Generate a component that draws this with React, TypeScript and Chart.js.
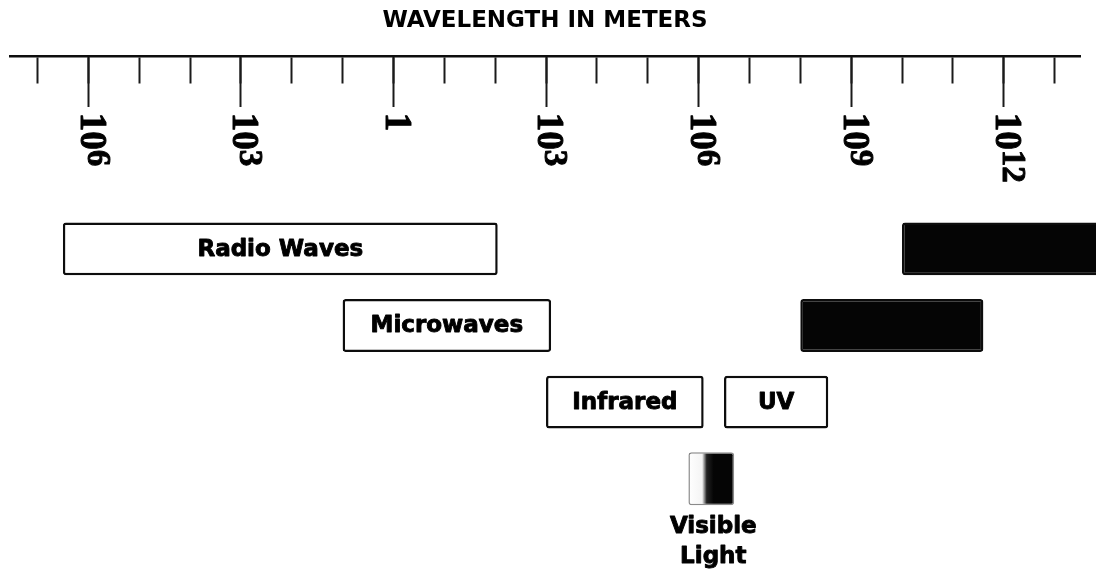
import React, { useEffect, useRef } from "react";
import { Chart, registerables } from "chart.js";

Chart.register(...registerables);

// ---------- data ----------
const TITLE = "WAVELENGTH IN METERS";
const ROWS = ["row1", "row2", "row3", "row4"];
const BANDS = ["Radio Waves", "Microwaves", "Infrared", "Visible Light", "UV", "X-Rays", "Gamma Rays"];
// axis units: each unit = one decade of wavelength, 10^6 m at -6 … 10^12 at 12
const BAND_START = [-6.5, -1.0, 3.0, 5.8, 6.5, 8.0, 10.0];
const BAND_END = [2.05, 3.1, 6.1, 6.7, 8.55, 11.6, 13.9];
const BAND_ROW = ["row1", "row2", "row3", "row4", "row3", "row2", "row1"];
const TICK_LABELS = ["10^6", "10^3", "1", "10^3", "10^6", "10^9", "10^12"];
const AXIS_MIN = -7.54;
const AXIS_MAX = 13.5;
const MINOR_STEP = 1;
const MAJOR_STEP = 3;

// ---------- styles ----------
const DARK = new Set(["X-Rays", "Gamma Rays"]);
const BELOW = new Set(["Visible Light"]);
const AXIS_ROW_POS = -2.52; // where the wavelength axis sits, in row units above first row
const INK = "#0d0d0d";
const LABEL_FONT = 'bold 23px "DejaVu Sans"';

const bandLabelPlugin = {
  id: "bandLabels",
  afterDatasetsDraw(chart: any) {
    const ctx = chart.ctx;
    ctx.save();
    ctx.font = LABEL_FONT;
    ctx.fillStyle = "#000";
    ctx.strokeStyle = "#000";
    ctx.lineWidth = 0.9;
    ctx.lineJoin = "round";
    ctx.textAlign = "center";
    ctx.textBaseline = "middle";
    const put = (s: string, x: number, y: number) => {
      ctx.fillText(s, x, y);
      ctx.strokeText(s, x, y);
    };
    chart.data.datasets.forEach((ds: any, i: number) => {
      if (DARK.has(ds.label)) return;
      const el = chart.getDatasetMeta(i).data[0];
      if (!el) return;
      const { x, base, y, height } = el.getProps(["x", "base", "y", "height"], true);
      const cx = (x + base) / 2;
      if (BELOW.has(ds.label)) {
        const lines = String(ds.label).split(" ");
        lines.forEach((ln: string, k: number) => {
          put(ln, cx + 2, y + height / 2 + 22 + k * 30);
        });
      } else {
        put(ds.label, cx, y + 1);
      }
    });
    ctx.restore();
  },
};

const tickLabelPlugin = {
  id: "tickLabels",
  afterDraw(chart: any) {
    const scale = chart.scales.x2;
    const ys = chart.scales.y;
    if (!scale || !ys) return;
    const ctx = chart.ctx;
    const top = ys.getPixelForValue(AXIS_ROW_POS) + scale.options.grid.tickLength + 6;
    ctx.save();
    ctx.fillStyle = "#000";
    ctx.strokeStyle = "#000";
    ctx.lineWidth = 1;
    ctx.lineJoin = "round";
    ctx.textBaseline = "middle";
    ctx.textAlign = "left";
    scale.ticks.forEach((t: any, i: number) => {
      const label = TICK_LABELS[i];
      if (label === undefined) return;
      const [base, exp] = label.split("^");
      const px = scale.getPixelForValue(t.value);
      ctx.save();
      ctx.translate(px, top);
      ctx.rotate(Math.PI / 2);
      ctx.font = 'bold 37px "Liberation Serif"';
      ctx.fillText(base, 0, -2);
      ctx.strokeText(base, 0, -2);
      if (exp) {
        const w = ctx.measureText(base).width;
        ctx.font = 'bold 33px "Liberation Serif"';
        ctx.fillText(exp, w, -8);
        ctx.strokeText(exp, w, -8);
      }
      ctx.restore();
    });
    ctx.restore();
  },
};

function visibleFill(c: any) {
  const chart = c.chart;
  const xs = chart.scales && chart.scales.x;
  if (!chart.chartArea || !xs) return "#777";
  const i = BANDS.indexOf("Visible Light");
  const a = xs.getPixelForValue(BAND_START[i]);
  const b = xs.getPixelForValue(BAND_END[i]);
  if (!isFinite(a) || !isFinite(b) || a === b) return "#777";
  const g = chart.ctx.createLinearGradient(a, 0, b, 0);
  g.addColorStop(0, "#ffffff");
  g.addColorStop(0.3, "#f4f4f4");
  g.addColorStop(0.4, "#222");
  g.addColorStop(0.55, "#050505");
  g.addColorStop(1, "#050505");
  return g;
}

export default function App() {
  const ref = useRef<HTMLCanvasElement | null>(null);

  useEffect(() => {
    if (!ref.current) return;
    const datasets = BANDS.map((name, i) => ({
      label: name,
      data: [{ x: [BAND_START[i], BAND_END[i]], y: BAND_ROW[i] }],
      backgroundColor: name === "Visible Light" ? visibleFill : DARK.has(name) ? "#050505" : "#ffffff",
      borderColor: name === "Visible Light" ? "#8a8a8a" : INK,
      borderWidth: name === "Visible Light" ? 1.5 : 2.5,
      borderRadius: 3,
      borderSkipped: false,
      grouped: false,
      clip: false,
      barPercentage: 0.69,
      categoryPercentage: 1,
    }));

    const chart = new Chart(ref.current, {
      type: "bar",
      data: { labels: ROWS, datasets: datasets as any },
      options: {
        indexAxis: "y",
        animation: false,
        responsive: true,
        maintainAspectRatio: false,
        layout: { padding: { left: 10, right: 16, top: 0, bottom: 60 } },
        plugins: {
          legend: { display: false },
          tooltip: { enabled: false },
          title: {
            display: true,
            text: TITLE,
            color: "#000",
            font: { family: "DejaVu Sans", size: 23, weight: "bold" },
            padding: { top: 7, bottom: 176 },
          },
        },
        scales: {
          y: {
            type: "category",
            display: false,
          },
          x: {
            type: "linear",
            position: { y: AXIS_ROW_POS } as any,
            min: AXIS_MIN,
            max: AXIS_MAX,
            bounds: "ticks",
            ticks: { display: false, stepSize: MINOR_STEP, includeBounds: false },
            grid: {
              drawOnChartArea: false,
              drawTicks: true,
              tickLength: 26,
              tickWidth: 2,
              tickColor: "#1a1a1a",
            },
            border: { display: true, color: INK, width: 2.5 },
          },
          x2: {
            type: "linear",
            axis: "x",
            position: { y: AXIS_ROW_POS } as any,
            min: AXIS_MIN,
            max: AXIS_MAX,
            bounds: "ticks",
            ticks: { display: false, stepSize: MAJOR_STEP, includeBounds: false },
            grid: {
              drawOnChartArea: false,
              drawTicks: true,
              tickLength: 51,
              tickWidth: 2,
              tickColor: "#1a1a1a",
            },
            border: { display: false },
          },
        },
      },
      plugins: [bandLabelPlugin, tickLabelPlugin],
    });
    return () => chart.destroy();
  }, []);

  return (
    <div style={{ position: "fixed", left: 0, top: 0, width: 1096, height: 577, background: "#fff" }}>
      <canvas ref={ref} />
    </div>
  );
}
